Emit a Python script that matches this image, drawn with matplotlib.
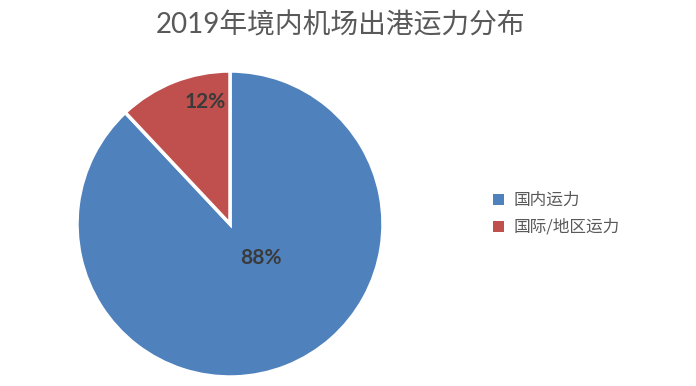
import matplotlib.pyplot as plt
from matplotlib.patches import Patch

plt.rcParams['font.family'] = ['Lato', 'Noto Sans CJK SC', 'DejaVu Sans']

# 数据
categories = ['国内运力', '国际/地区运力']
shares = [88, 12]
colors = ['#4F81BD', '#C0504D']
title = '2019年境内机场出港运力分布'

# 标签位置（以半径为单位）
label_pos = [(0.20, -0.22), (-0.165, 0.80)]

fig = plt.figure(figsize=(6.96, 3.86), dpi=100)
cx, cy, r = 230, 224, 153
ax = fig.add_axes([(cx - r) / 696, (386 - cy - r) / 386, 2 * r / 696, 2 * r / 386])

wedges, texts, autotexts = ax.pie(
    shares, colors=colors, startangle=90, counterclock=False, radius=1,
    autopct='%d%%', wedgeprops=dict(edgecolor='white', linewidth=2.5),
    textprops=dict(fontsize=15, color='#3a3a3a'))
for t, (x, y) in zip(autotexts, label_pos):
    t.set_position((x, y))
    t.set_fontweight('bold')
ax.set_xlim(-1, 1)
ax.set_ylim(-1, 1)
ax.set_aspect('equal')

fig.text(341 / 696, 1 - 25 / 386, title, ha='center', va='center',
         fontsize=20, color='#595959',
         family=['Lato', 'Noto Sans CJK SC'])

handles = [Patch(facecolor=c, edgecolor='none') for c in colors]
fig.legend(handles, categories, loc='center left',
           bbox_to_anchor=(478 / 696, 1 - 214 / 386), frameon=False,
           handlelength=0.65, handleheight=0.65, handletextpad=0.6,
           labelspacing=0.6, prop=dict(family=['Noto Sans CJK SC'], size=12),
           labelcolor='#595959')

fig.savefig('out.png', dpi=100, facecolor='white')
